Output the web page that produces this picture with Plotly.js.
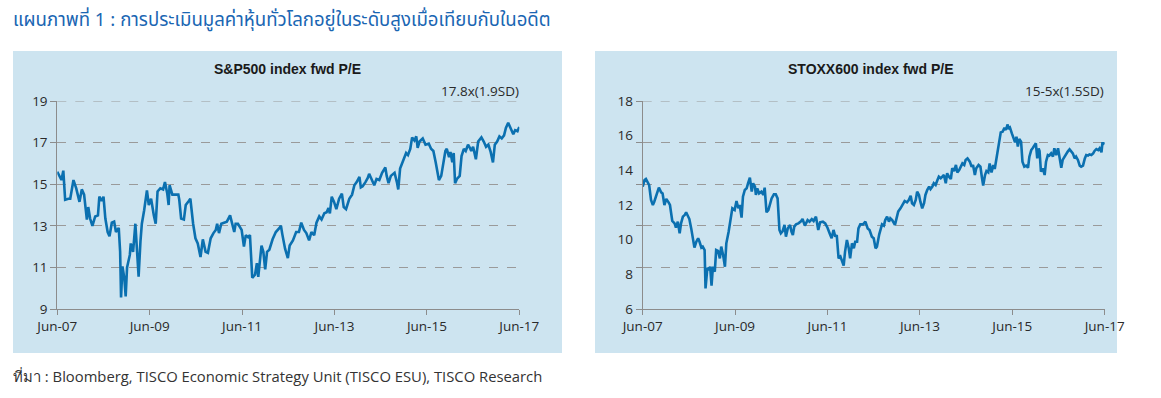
<!DOCTYPE html>
<html><head><meta charset="utf-8">
<script src="https://cdn.plot.ly/plotly-3.0.1.min.js"></script>
<style>html,body{margin:0;padding:0;background:#fff;}#chart{width:1161px;height:398px;}</style>
</head><body><div id="chart"></div>
<script>
const tickYears=[2007.5,2009.5,2011.5,2013.5,2015.5,2017.5];
const tickLabels=['Jun-07','Jun-09','Jun-11','Jun-13','Jun-15','Jun-17'];
const spTicks=[9,11,13,15,17,19];
const stoxxTicks=[6,8,10,12,14,16,18];
const stoxxGrid=[6,8.4,10.8,13.2,15.6,18];

const spX=[2007.50,2007.56,2007.59,2007.63,2007.67,2007.74,2007.78,2007.85,2007.91,2007.98,
2008.03,2008.08,2008.14,2008.17,2008.21,2008.26,2008.32,2008.38,2008.41,2008.46,
2008.50,2008.54,2008.59,2008.63,2008.68,2008.73,2008.77,2008.83,2008.86,2008.88,
2008.91,2008.95,2008.98,2009.01,2009.07,2009.09,2009.14,2009.19,2009.22,2009.26,
2009.30,2009.33,2009.38,2009.44,2009.48,2009.53,2009.59,2009.63,2009.67,2009.73,
2009.79,2009.83,2009.88,2009.91,2009.93,2009.99,2010.06,2010.12,2010.14,2010.18,
2010.24,2010.28,2010.35,2010.38,2010.44,2010.49,2010.54,2010.60,2010.65,2010.71,
2010.76,2010.82,2010.88,2010.93,2010.96,2011.00,2011.05,2011.11,2011.17,2011.24,
2011.29,2011.33,2011.36,2011.41,2011.49,2011.54,2011.58,2011.63,2011.67,2011.72,
2011.78,2011.82,2011.85,2011.89,2011.92,2011.96,2012.00,2012.04,2012.09,2012.16,
2012.23,2012.31,2012.34,
2012.37,2012.43,2012.49,2012.53,2012.60,2012.67,2012.73,2012.78,2012.84,2012.89,
2012.95,2013.00,2013.06,2013.11,2013.17,2013.22,2013.28,2013.33,2013.37,2013.40,
2013.44,2013.49,2013.54,2013.60,2013.66,2013.70,2013.75,2013.82,2013.88,2013.93,
2013.98,2014.04,2014.07,2014.11,2014.17,2014.22,2014.25,2014.31,2014.36,2014.41,
2014.47,2014.53,2014.60,2014.63,2014.67,2014.72,2014.80,2014.85,2014.88,2014.92,
2014.99,2015.05,2015.09,2015.14,2015.18,2015.23,2015.27,2015.30,2015.34,2015.41,
2015.47,2015.54,2015.59,2015.64,2015.69,2015.72,2015.76,2015.81,2015.85,2015.90,
2015.93,2015.98,2016.01,2016.05,2016.08,2016.11,2016.15,2016.21,2016.25,2016.30,
2016.34,2016.39,2016.43,2016.46,2016.50,2016.56,2016.61,2016.68,2016.73,2016.78,
2016.83,2016.88,2016.93,2016.97,2017.02,2017.07,2017.12,2017.17,2017.21,2017.26,
2017.31,2017.37,2017.41,2017.46,2017.50];
const spPE=[15.6,15.3,15.2,15.65,14.25,14.3,14.3,15.2,14.8,14.15,
14.75,14.5,13.3,13.9,13.35,13.0,13.45,13.5,14.4,14.2,
14.4,13.35,12.7,12.5,13.15,13.2,12.7,12.9,11.75,9.55,
11.05,10.5,9.6,11.0,11.6,12.15,11.75,13.1,11.75,10.55,
12.25,13.1,13.75,14.7,14.0,14.3,13.5,13.1,14.65,14.8,
14.75,15.1,14.55,14.0,14.95,14.5,14.5,14.5,14.25,13.35,
13.3,14.0,14.2,14.3,13.1,12.4,12.15,11.5,12.35,11.75,
11.7,12.4,12.65,12.8,13.1,12.65,13.1,13.15,13.2,13.5,
13.1,12.7,13.1,13.1,12.8,12.0,12.55,12.45,12.55,10.5,
10.65,11.2,10.55,11.35,12.05,11.75,10.9,11.75,11.85,12.35,
12.7,12.9,13.0,
12.6,11.9,11.45,12.05,12.3,12.7,12.7,13.15,12.8,12.65,
12.3,12.7,12.55,13.15,13.45,13.3,13.6,13.65,13.85,13.6,
14.4,14.15,13.8,14.3,14.55,13.9,13.8,14.3,14.5,14.95,
15.1,15.35,14.85,14.9,15.1,15.3,15.5,15.2,14.95,15.25,
15.2,15.55,15.8,15.4,15.05,15.4,15.55,15.1,14.75,15.75,
16.2,16.5,16.4,16.7,17.25,17.1,17.3,16.75,17.05,17.2,
16.9,16.95,16.7,16.6,16.05,15.75,15.2,15.4,15.95,16.6,
16.7,16.3,16.55,16.05,16.5,15.05,15.25,15.4,16.35,16.7,
16.6,16.9,16.75,16.6,16.8,16.2,17.05,17.25,17.05,16.8,
16.9,16.55,16.05,16.9,17.05,17.3,17.2,17.35,17.7,17.95,
17.7,17.4,17.6,17.55,17.75];

const stoxxX=[2007.50,2007.54,2007.57,2007.61,2007.64,2007.68,2007.72,2007.75,2007.80,2007.85,
2007.90,2007.93,2007.97,2008.01,2008.06,2008.09,2008.14,2008.19,2008.22,2008.26,
2008.30,2008.33,2008.37,2008.41,2008.44,2008.48,2008.51,2008.55,2008.59,2008.62,
2008.66,2008.70,2008.73,2008.77,2008.80,2008.84,2008.86,2008.90,2008.93,2008.96,
2008.99,2009.02,2009.06,2009.09,2009.13,2009.17,2009.20,2009.24,2009.28,2009.31,
2009.36,2009.40,2009.44,2009.49,2009.53,2009.57,2009.60,2009.64,2009.67,2009.71,
2009.75,2009.78,2009.82,2009.86,2009.89,2009.93,2009.95,2009.98,2010.02,2010.07,
2010.11,2010.14,2010.18,2010.22,2010.25,2010.29,2010.34,2010.38,2010.42,2010.46,
2010.49,2010.53,2010.57,2010.60,2010.64,2010.69,2010.72,2010.75,2010.78,2010.82,
2010.87,2010.92,2010.96,2011.01,2011.07,2011.11,2011.16,2011.20,2011.25,2011.30,
2011.34,2011.40,2011.45,2011.50,2011.56,2011.59,2011.63,2011.67,2011.70,2011.74,
2011.78,2011.81,2011.85,2011.88,2011.92,2011.96,2011.99,2012.03,2012.07,2012.10,
2012.14,2012.17,2012.21,2012.27,2012.32,2012.37,2012.41,2012.46,2012.50,2012.54,
2012.57,
2012.62,2012.68,2012.72,2012.75,2012.79,2012.83,2012.86,2012.90,2012.96,2012.99,
2013.03,2013.08,2013.13,2013.17,2013.22,2013.26,2013.30,2013.33,2013.37,2013.41,
2013.44,2013.48,2013.51,2013.55,2013.59,2013.62,2013.66,2013.70,2013.73,2013.77,
2013.80,2013.84,2013.88,2013.91,2013.95,2013.99,2014.02,2014.06,2014.09,2014.13,
2014.17,2014.20,2014.24,2014.28,2014.31,2014.35,2014.38,2014.42,2014.46,2014.49,
2014.53,2014.58,2014.62,2014.65,2014.69,2014.72,2014.77,2014.81,2014.84,2014.87,
2014.91,2014.94,2014.98,2015.01,2015.05,2015.09,2015.12,2015.16,2015.20,2015.23,
2015.25,2015.29,2015.33,2015.36,2015.40,2015.42,2015.45,2015.49,2015.52,2015.56,
2015.59,2015.62,2015.65,2015.69,2015.72,2015.76,2015.80,2015.84,2015.87,2015.91,
2015.94,2015.98,2016.01,2016.04,2016.07,2016.09,2016.12,2016.16,2016.20,2016.23,
2016.27,2016.30,2016.34,2016.38,2016.41,2016.45,2016.49,2016.52,2016.56,2016.59,
2016.63,2016.67,2016.70,2016.74,2016.78,2016.81,2016.85,2016.88,2016.92,2016.96,
2016.99,2017.03,2017.07,2017.10,2017.14,2017.17,2017.21,2017.25,2017.28,2017.32,
2017.36,2017.39,2017.43,2017.45,2017.48,2017.50];
const stoxxPE=[13.06,13.44,13.5,13.31,13.15,12.29,12.0,12.19,12.58,13.0,
12.73,12.67,12.0,12.35,12.15,12.0,11.08,10.94,10.69,11.04,
10.37,10.94,11.33,11.42,11.58,11.38,11.19,10.65,10.12,9.54,
9.88,10.08,9.88,9.54,9.6,9.4,7.19,8.38,8.25,8.44,
7.35,8.44,8.15,9.4,9.35,8.92,9.6,9.12,8.44,9.79,
10.46,11.04,11.81,11.71,12.23,11.81,12.0,11.27,12.48,12.87,
12.96,13.25,13.58,12.77,13.25,13.06,12.58,12.96,12.67,12.77,
12.58,13.0,11.58,11.71,12.0,12.38,12.62,12.62,12.38,10.56,
10.37,10.5,10.85,10.17,10.65,10.85,10.46,10.27,10.75,10.88,
10.94,11.04,11.19,10.81,11.13,11.04,11.19,11.08,11.33,10.56,
11.0,11.04,10.94,10.69,10.27,10.08,10.56,10.17,10.27,8.92,
9.02,8.77,8.5,9.31,9.98,9.5,8.92,9.79,9.5,9.88,
9.88,10.65,10.88,10.88,11.04,10.65,10.56,10.17,10.08,9.5,
9.6,
10.31,10.88,10.81,11.13,11.33,11.04,11.23,11.13,10.85,11.27,
11.62,11.81,12.04,12.23,12.15,12.29,12.54,12.1,12.0,12.29,
12.77,12.58,12.19,11.81,12.1,12.58,12.87,13.06,12.92,13.06,
13.25,13.15,13.44,13.63,13.54,13.69,13.73,13.25,13.83,13.63,
13.5,14.12,13.96,14.31,13.88,14.02,14.21,14.4,14.31,14.6,
14.69,14.5,14.21,14.31,13.73,14.12,14.31,14.21,13.63,13.12,
13.73,13.96,13.88,14.4,13.88,14.31,14.08,14.69,15.46,15.75,
16.19,16.23,16.46,16.33,16.65,16.38,16.46,16.13,15.85,15.62,
15.94,15.37,15.81,15.65,14.5,14.21,14.27,14.15,14.79,15.17,
15.27,15.46,15.56,14.69,15.27,15.12,13.92,14.12,13.73,14.5,
14.88,14.85,14.98,14.79,15.27,14.88,15.27,14.79,14.15,14.6,
14.79,14.98,15.08,15.21,15.08,14.98,14.69,14.79,14.6,14.27,
14.21,14.27,14.69,14.88,14.85,14.92,14.88,14.98,15.12,15.23,
15.17,15.27,15.04,15.56,15.56,15.5];

const mainTitle='แผนภาพที่ 1 : การประเมินมูลค่าหุ้นทั่วโลกอยู่ในระดับสูงเมื่อเทียบกับในอดีต';
const spTitle='S&P500 index fwd P/E';
const stoxxTitle='STOXX600 index fwd P/E';
const spNote='17.8x(1.9SD)';
const stoxxNote='15-5x(1.5SD)';
const sourceText='ที่มา : Bloomberg, TISCO Economic Strategy Unit (TISCO ESU), TISCO Research';

const W=1161,H=398;
const px=v=>v/W, py=v=>1-v/H;
const axisCol='#8c8c8c', gridCol='#9a9a9a', lineCol='#0b70b0', panelCol='#cde4f0';
const tfont={family:'Open Sans, DejaVu Sans, sans-serif',size:13.5,color:'#2a2a2a'};

const xBase={range:[2007.5,2017.5],tickvals:tickYears,ticktext:tickLabels,ticks:'outside',ticklen:5,
  tickcolor:axisCol,showline:true,linecolor:axisCol,linewidth:1,showgrid:false,zeroline:false,
  tickfont:tfont,fixedrange:true};
const yDom=[py(309),py(101)];
const gridLine=(yref,val)=>({type:'line',xref:(yref==='y'?'x':'x2')+' domain',yref:yref,x0:0,x1:1,y0:val,y1:val,
  line:{color:gridCol,width:1,dash:'dash'},layer:'below'});

const layout={
  width:W,height:H,margin:{l:0,r:0,t:0,b:0},paper_bgcolor:'#ffffff',plot_bgcolor:'rgba(0,0,0,0)',
  showlegend:false,
  xaxis:Object.assign({},xBase,{domain:[px(57.3),px(519.3)],anchor:'y'}),
  yaxis:{domain:yDom,anchor:'x',range:[9,19],tickvals:spTicks,ticks:'outside',ticklen:6,tickcolor:axisCol,
    showline:true,linecolor:axisCol,linewidth:1,showgrid:true,gridcolor:gridCol,griddash:'dash',gridwidth:1,
    zeroline:false,tickfont:tfont,fixedrange:true},
  xaxis2:Object.assign({},xBase,{domain:[px(642.7),px(1104.7)],anchor:'y2'}),
  yaxis2:{domain:yDom,anchor:'x2',range:[6,18],tickvals:stoxxTicks,ticks:'outside',ticklen:6,
    tickcolor:'rgba(0,0,0,0)',showline:false,showgrid:false,zeroline:false,tickfont:tfont,fixedrange:true},
  yaxis3:{overlaying:'y2',anchor:'x2',range:[6,18],tickvals:stoxxGrid,showticklabels:false,ticks:'outside',
    ticklen:6,tickcolor:axisCol,showline:true,linecolor:axisCol,linewidth:1,showgrid:true,gridcolor:gridCol,
    griddash:'dash',gridwidth:1,zeroline:false,fixedrange:true},
  shapes:[
    {type:'rect',xref:'paper',yref:'paper',x0:px(13),x1:px(562),y0:py(353),y1:py(51),fillcolor:panelCol,line:{width:0},layer:'below'},
    {type:'rect',xref:'paper',yref:'paper',x0:px(595),x1:px(1117),y0:py(353),y1:py(51),fillcolor:panelCol,line:{width:0},layer:'below'},
    gridLine('y',spTicks[spTicks.length-1]),
    gridLine('y2',stoxxGrid[stoxxGrid.length-1])
  ],
  annotations:[
    {text:mainTitle,xref:'paper',yref:'paper',x:px(11),y:py(20),xanchor:'left',yanchor:'middle',showarrow:false,
      font:{family:'Noto Sans Thai, Noto Sans, sans-serif',size:18.6,color:'#1a66b3'}},
    {text:spTitle,xref:'paper',yref:'paper',x:px(287),y:py(69),xanchor:'center',yanchor:'middle',showarrow:false,
      font:{family:'Liberation Sans, Arial, sans-serif',size:14,color:'#1a1a1a',weight:600}},
    {text:stoxxTitle,xref:'paper',yref:'paper',x:px(870),y:py(69),xanchor:'center',yanchor:'middle',showarrow:false,
      font:{family:'Liberation Sans, Arial, sans-serif',size:14,color:'#1a1a1a',weight:600}},
    {text:spNote,xref:'paper',yref:'paper',x:px(521),y:py(91),xanchor:'right',yanchor:'middle',showarrow:false,font:tfont},
    {text:stoxxNote,xref:'paper',yref:'paper',x:px(1106),y:py(91),xanchor:'right',yanchor:'middle',showarrow:false,font:tfont},
    {text:sourceText,xref:'paper',yref:'paper',x:px(11),y:py(376),xanchor:'left',yanchor:'middle',showarrow:false,
      font:{family:'Open Sans, Noto Sans, sans-serif',size:14.8,color:'#333'}}
  ]
};
const data=[
  {type:'scatter',mode:'lines',x:spX,y:spPE,xaxis:'x',yaxis:'y',line:{color:lineCol,width:2.6},hoverinfo:'skip'},
  {type:'scatter',mode:'lines',x:stoxxX,y:stoxxPE,xaxis:'x2',yaxis:'y3',line:{color:lineCol,width:0},opacity:0,hoverinfo:'skip'},
  {type:'scatter',mode:'lines',x:stoxxX,y:stoxxPE,xaxis:'x2',yaxis:'y2',line:{color:lineCol,width:2.6},hoverinfo:'skip'}
];
Plotly.newPlot('chart',data,layout,{displayModeBar:false,staticPlot:true});
</script></body></html>
